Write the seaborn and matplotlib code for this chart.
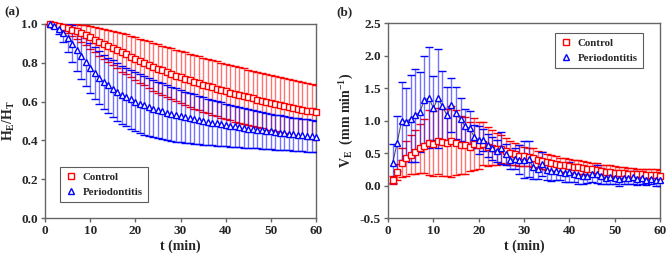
import matplotlib
matplotlib.use('Agg')
import matplotlib.pyplot as plt
import seaborn as sns
import pandas as pd

# time points (min)
t = list(range(1, 61))

# (a) relative enamel height H_E/H_T, mean and SD
ctrl_h = [1.000, 0.997, 0.992, 0.986, 0.979, 0.971, 0.962, 0.952, 0.942, 0.931,
          0.920, 0.909, 0.898, 0.887, 0.876, 0.865, 0.854, 0.843, 0.832, 0.821,
          0.810, 0.800, 0.790, 0.780, 0.770, 0.761, 0.752, 0.743, 0.734, 0.726,
          0.718, 0.710, 0.702, 0.694, 0.687, 0.680, 0.673, 0.666, 0.659, 0.653,
          0.646, 0.640, 0.634, 0.628, 0.622, 0.616, 0.610, 0.605, 0.599, 0.594,
          0.589, 0.584, 0.579, 0.574, 0.569, 0.564, 0.559, 0.554, 0.549, 0.544]
ctrl_h_sd = [0.000, 0.005, 0.011, 0.017, 0.024, 0.031, 0.038, 0.045, 0.052, 0.059,
             0.066, 0.072, 0.078, 0.084, 0.089, 0.094, 0.099, 0.103, 0.107, 0.111,
             0.114, 0.117, 0.120, 0.123, 0.125, 0.127, 0.129, 0.131, 0.133, 0.134,
             0.136, 0.137, 0.138, 0.139, 0.140, 0.141, 0.141, 0.142, 0.142, 0.143,
             0.143, 0.143, 0.143, 0.143, 0.143, 0.143, 0.143, 0.143, 0.143, 0.142,
             0.142, 0.142, 0.142, 0.141, 0.141, 0.141, 0.140, 0.140, 0.140, 0.140]
perio_h = [1.000, 0.990, 0.975, 0.955, 0.928, 0.898, 0.866, 0.834, 0.803, 0.774,
           0.748, 0.724, 0.702, 0.683, 0.666, 0.650, 0.636, 0.623, 0.611, 0.600,
           0.590, 0.581, 0.572, 0.564, 0.557, 0.550, 0.543, 0.537, 0.531, 0.525,
           0.520, 0.515, 0.510, 0.505, 0.500, 0.496, 0.492, 0.488, 0.484, 0.480,
           0.476, 0.472, 0.468, 0.465, 0.461, 0.458, 0.455, 0.452, 0.449, 0.446,
           0.443, 0.440, 0.437, 0.435, 0.432, 0.430, 0.427, 0.425, 0.422, 0.420]
perio_h_sd = [0.000, 0.012, 0.028, 0.048, 0.072, 0.095, 0.110, 0.118, 0.124, 0.129,
              0.133, 0.137, 0.140, 0.143, 0.146, 0.148, 0.150, 0.151, 0.152, 0.152,
              0.152, 0.151, 0.150, 0.148, 0.146, 0.144, 0.142, 0.139, 0.137, 0.134,
              0.132, 0.129, 0.127, 0.124, 0.122, 0.119, 0.117, 0.115, 0.112, 0.110,
              0.108, 0.106, 0.104, 0.102, 0.100, 0.098, 0.096, 0.094, 0.093, 0.091,
              0.090, 0.089, 0.088, 0.087, 0.086, 0.085, 0.084, 0.083, 0.082, 0.082]

# (b) erosion velocity V_E (mm min^-1), mean and SD
ctrl_v = [0.08, 0.21, 0.35, 0.42, 0.47, 0.52, 0.57, 0.61, 0.66, 0.64,
          0.68, 0.67, 0.66, 0.68, 0.66, 0.62, 0.62, 0.60, 0.64, 0.62,
          0.64, 0.60, 0.58, 0.56, 0.56, 0.53, 0.50, 0.48, 0.46, 0.45,
          0.44, 0.43, 0.40, 0.38, 0.36, 0.35, 0.33, 0.32, 0.31, 0.30,
          0.29, 0.28, 0.27, 0.26, 0.25, 0.24, 0.22, 0.21, 0.21, 0.20,
          0.19, 0.19, 0.18, 0.18, 0.17, 0.17, 0.16, 0.16, 0.16, 0.15]
ctrl_v_sd = [0.06, 0.12, 0.22, 0.27, 0.30, 0.34, 0.38, 0.42, 0.50, 0.50,
             0.51, 0.52, 0.52, 0.55, 0.50, 0.45, 0.44, 0.38, 0.40, 0.36,
             0.33, 0.30, 0.27, 0.25, 0.22, 0.20, 0.18, 0.17, 0.16, 0.15,
             0.14, 0.14, 0.13, 0.13, 0.12, 0.12, 0.12, 0.11, 0.11, 0.11,
             0.11, 0.11, 0.10, 0.10, 0.10, 0.10, 0.10, 0.10, 0.10, 0.10,
             0.10, 0.09, 0.09, 0.09, 0.09, 0.09, 0.09, 0.09, 0.09, 0.09]
perio_v = [0.34, 0.65, 1.00, 0.98, 1.03, 1.08, 1.13, 1.31, 1.35, 1.19,
           1.34, 1.22, 1.08, 1.24, 1.11, 1.02, 0.91, 0.88, 0.75, 0.70,
           0.70, 0.62, 0.57, 0.53, 0.58, 0.48, 0.40, 0.41, 0.40, 0.40,
           0.41, 0.28, 0.25, 0.33, 0.24, 0.22, 0.22, 0.21, 0.20, 0.21,
           0.18, 0.16, 0.14, 0.15, 0.17, 0.18, 0.15, 0.12, 0.13, 0.12,
           0.10, 0.12, 0.11, 0.13, 0.10, 0.12, 0.09, 0.10, 0.08, 0.08]
perio_v_sd = [0.30, 0.42, 0.60, 0.52, 0.67, 0.72, 0.61, 0.69, 0.78, 0.49,
              0.76, 0.54, 0.43, 0.42, 0.40, 0.33, 0.26, 0.27, 0.18, 0.22,
              0.17, 0.18, 0.18, 0.17, 0.25, 0.16, 0.15, 0.16, 0.22, 0.28,
              0.28, 0.18, 0.15, 0.18, 0.16, 0.15, 0.14, 0.13, 0.14, 0.15,
              0.12, 0.13, 0.12, 0.11, 0.12, 0.14, 0.12, 0.10, 0.11, 0.10,
              0.10, 0.09, 0.09, 0.10, 0.09, 0.09, 0.08, 0.08, 0.08, 0.08]

groups = ['Control', 'Periodontitis']
colors = {'Control': '#ff0000', 'Periodontitis': '#0000ff'}
markers = {'Control': 's', 'Periodontitis': '^'}

sns.set_style('ticks')
plt.rcParams['font.family'] = ['Liberation Serif', 'DejaVu Serif']
plt.rcParams['font.weight'] = 'bold'
plt.rcParams['mathtext.fontset'] = 'custom'
plt.rcParams['mathtext.rm'] = 'Liberation Serif:bold'
plt.rcParams['mathtext.it'] = 'Liberation Serif:bold'
plt.rcParams['mathtext.default'] = 'rm'
plt.rcParams['axes.unicode_minus'] = False

df_a = pd.concat([
    pd.DataFrame({'t': t, 'y': ctrl_h, 'sd': ctrl_h_sd, 'group': 'Control'}),
    pd.DataFrame({'t': t, 'y': perio_h, 'sd': perio_h_sd, 'group': 'Periodontitis'}),
])
df_b = pd.concat([
    pd.DataFrame({'t': t, 'y': ctrl_v, 'sd': ctrl_v_sd, 'group': 'Control'}),
    pd.DataFrame({'t': t, 'y': perio_v, 'sd': perio_v_sd, 'group': 'Periodontitis'}),
])

fig = plt.figure(figsize=(6.69, 2.6), dpi=100)
ax_a = fig.add_axes([0.0673, 0.1615, 0.4051, 0.7462])
ax_b = fig.add_axes([0.580, 0.1615, 0.4066, 0.750])


def draw_group(ax, d, g):
    c = colors[g]
    line, caps, bars = ax.errorbar(d['t'], d['y'], yerr=d['sd'], fmt=markers[g],
                                   ms=4.0, mfc='white', mec=c, mew=1.0,
                                   ecolor=c, elinewidth=1.0, capsize=3,
                                   capthick=1.0, label=g, zorder=3)
    for b in bars:
        b.set_alpha(0.55)
    line.set_clip_on(False)


for g in groups:
    draw_group(ax_a, df_a[df_a['group'] == g], g)

# thin dark line through the periodontitis points in (b)
sns.lineplot(data=df_b[df_b['group'] == 'Periodontitis'], x='t', y='y', ax=ax_b,
             color='#555555', lw=0.8, zorder=2, legend=False)
for g in groups:
    draw_group(ax_b, df_b[df_b['group'] == g], g)

spine_c = '#666666'
for ax in (ax_a, ax_b):
    ax.set_xlim(0, 60)
    ax.set_xticks(range(0, 61, 10))
    for s in ax.spines.values():
        s.set_visible(True)
        s.set_color(spine_c)
        s.set_linewidth(1.0)
    ax.tick_params(direction='out', length=3, width=1, color=spine_c,
                   labelsize=9.5, pad=2)

ax_a.set_ylim(0, 1.0)
ax_a.set_yticks([0.0, 0.2, 0.4, 0.6, 0.8, 1.0])
ax_a.set_yticklabels(['0.0', '0.2', '0.4', '0.6', '0.8', '1.0'])
ax_a.set_ylabel('H$_{E}$/H$_{T}$', fontsize=10, fontweight='bold', labelpad=3)

ax_b.set_ylim(-0.5, 2.5)
ax_b.set_yticks([-0.5, 0.0, 0.5, 1.0, 1.5, 2.0, 2.5])
ax_b.set_yticklabels(['-0.5', '0.0', '0.5', '1.0', '1.5', '2.0', '2.5'])
ax_b.set_ylabel('V$_{E}$  (mm min$^{-1}$)', fontsize=10, fontweight='bold', labelpad=3)

for ax in (ax_a, ax_b):
    ax.set_xlabel('t (min)', fontsize=10, fontweight='bold', labelpad=2)
    for lab in ax.get_xticklabels() + ax.get_yticklabels():
        lab.set_fontweight('bold')

leg_kw = dict(frameon=True, fancybox=False, handlelength=1.0,
              handletextpad=0.6, borderpad=0.5, labelspacing=0.5,
              borderaxespad=0.0, prop={'weight': 'bold', 'size': 7.8})
handles_a, labels_a = ax_a.get_legend_handles_labels()
la = ax_a.legend([h[0] for h in handles_a], labels_a, loc='lower left',
                 bbox_to_anchor=(0.055, 0.082), **leg_kw)
handles_b, labels_b = ax_b.get_legend_handles_labels()
lb = ax_b.legend([h[0] for h in handles_b], labels_b, loc='upper right',
                 bbox_to_anchor=(0.9375, 0.949), **leg_kw)
for leg in (la, lb):
    leg.get_frame().set_edgecolor('#333333')
    leg.get_frame().set_linewidth(0.8)

fig.text(0.006, 0.975, '(a)', fontsize=9.5, fontweight='bold', va='top', ha='left')
fig.text(0.503, 0.975, '(b)', fontsize=9.5, fontweight='bold', va='top', ha='left')

fig.savefig('out.png', dpi=100)
